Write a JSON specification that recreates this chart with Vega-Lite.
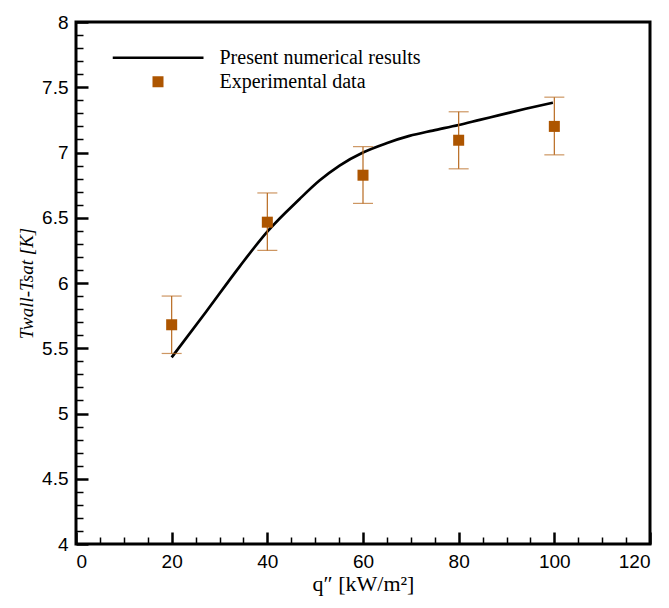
{
  "$schema": "https://vega.github.io/schema/vega-lite/v6.json",
  "autosize": "none",
  "width": 574,
  "height": 522,
  "padding": {"left": 76, "top": 22, "right": 19, "bottom": 64},
  "background": "white",
  "datasets": {
    "curve": [
      {"q": 20, "T": 5.43},
      {"q": 27.2, "T": 5.78},
      {"q": 34.2, "T": 6.126},
      {"q": 40, "T": 6.394},
      {"q": 46.7, "T": 6.642},
      {"q": 50.9, "T": 6.785},
      {"q": 55.1, "T": 6.9},
      {"q": 60, "T": 7.0},
      {"q": 64.9, "T": 7.071},
      {"q": 69.7, "T": 7.127},
      {"q": 74.6, "T": 7.168},
      {"q": 80, "T": 7.211},
      {"q": 84.4, "T": 7.25},
      {"q": 88.5, "T": 7.286},
      {"q": 94, "T": 7.335},
      {"q": 99.7, "T": 7.382}
    ],
    "exp": [
      {"q": 20, "T": 5.68, "lo": 5.46, "hi": 5.9, "series": "Experimental data"},
      {"q": 40, "T": 6.466, "lo": 6.25, "hi": 6.69, "series": "Experimental data"},
      {"q": 60, "T": 6.826, "lo": 6.61, "hi": 7.045, "series": "Experimental data"},
      {"q": 80, "T": 7.094, "lo": 6.875, "hi": 7.312, "series": "Experimental data"},
      {"q": 100, "T": 7.2, "lo": 6.982, "hi": 7.424, "series": "Experimental data"}
    ]
  },
  "layer": [
    {
      "data": {"name": "curve"},
      "mark": {"type": "line", "color": "black", "strokeWidth": 2.7, "interpolate": "monotone"},
      "encoding": {
        "x": {"field": "q", "type": "quantitative", "scale": {"domain": [0, 120], "nice": false},
          "axis": {"orient": "bottom", "values": [0, 20, 40, 60, 80, 100, 120], "format": "d", "ticks": false, "domain": false, "grid": false,
            "labelFont": "Liberation Sans", "labelFontSize": 19, "labelColor": "black", "labelPadding": 8,
            "title": "q″ [kW/m²]", "titleFont": "Liberation Serif", "titleFontSize": 22, "titleFontWeight": "normal", "titleColor": "black", "titlePadding": 2}},
        "y": {"field": "T", "type": "quantitative", "scale": {"domain": [4, 8], "nice": false, "zero": false},
          "axis": {"orient": "left", "values": [4, 4.5, 5, 5.5, 6, 6.5, 7, 7.5, 8], "format": "~g", "ticks": false, "domain": false, "grid": false,
            "labelFont": "Liberation Sans", "labelFontSize": 19, "labelColor": "black", "labelPadding": 8,
            "title": "Twall-Tsat [K]", "titleFont": "Liberation Serif", "titleFontSize": 19, "titleFontStyle": "italic", "titleFontWeight": "normal", "titleColor": "black", "titlePadding": 5}}
      }
    },
    {
      "data": {"name": "exp"},
      "mark": {"type": "rule", "color": "#b86a20", "strokeWidth": 1.2},
      "encoding": {
        "x": {"field": "q", "type": "quantitative",
          "axis": {"orient": "bottom", "values": [0, 20, 40, 60, 80, 100, 120], "labels": false, "domain": false, "grid": false, "ticks": true, "tickSize": -12, "tickWidth": 2.5, "tickColor": "black", "title": null}},
        "y": {"field": "lo", "type": "quantitative",
          "axis": {"orient": "left", "values": [4, 4.5, 5, 5.5, 6, 6.5, 7, 7.5, 8], "labels": false, "domain": false, "grid": false, "ticks": true, "tickSize": -12, "tickWidth": 2.5, "tickColor": "black", "title": null}},
        "y2": {"field": "hi"}
      }
    },
    {
      "data": {"name": "exp"},
      "mark": {"type": "tick", "orient": "horizontal", "color": "#b86a20", "size": 20, "thickness": 1.2},
      "encoding": {
        "x": {"field": "q", "type": "quantitative", "axis": null},
        "y": {"field": "lo", "type": "quantitative", "axis": null}
      }
    },
    {
      "data": {"name": "exp"},
      "mark": {"type": "tick", "orient": "horizontal", "color": "#b86a20", "size": 20, "thickness": 1.2},
      "encoding": {
        "x": {"field": "q", "type": "quantitative", "axis": null},
        "y": {"field": "hi", "type": "quantitative", "axis": null}
      }
    },
    {
      "data": {"name": "exp"},
      "mark": {"type": "point", "filled": true, "opacity": 1, "size": 8281},
      "encoding": {
        "x": {"field": "q", "type": "quantitative",
          "axis": {"orient": "bottom", "values": [5, 10, 15, 25, 30, 35, 45, 50, 55, 65, 70, 75, 85, 90, 95, 105, 110, 115], "labels": false, "domain": false, "grid": false, "ticks": true, "tickSize": -7, "tickWidth": 1.5, "tickColor": "black", "title": null}},
        "y": {"field": "T", "type": "quantitative",
          "axis": {"orient": "left", "values": [4.1, 4.2, 4.3, 4.4, 4.6, 4.7, 4.8, 4.9, 5.1, 5.2, 5.3, 5.4, 5.6, 5.7, 5.8, 5.9, 6.1, 6.2, 6.3, 6.4, 6.6, 6.7, 6.8, 6.9, 7.1, 7.2, 7.3, 7.4, 7.6, 7.7, 7.8, 7.9], "labels": false, "domain": false, "grid": false, "ticks": true, "tickSize": -7, "tickWidth": 1.5, "tickColor": "black", "title": null}},
        "color": {"field": "series", "type": "nominal",
          "scale": {"domain": ["Present numerical results", "Experimental data"], "range": ["black", "#ad5500"]},
          "legend": {"title": null, "orient": "none", "legendX": 36.5, "legendY": 23.7, "padding": 0, "rowPadding": 0, "clipHeight": 24, "symbolSize": 8281, "labelOffset": 16,
            "labelFont": "Liberation Serif", "labelFontSize": 20, "labelColor": "black", "labelLimit": 400, "symbolOpacity": 1, "symbolStrokeWidth": 0}},
        "shape": {"field": "series", "type": "nominal",
          "scale": {"domain": ["Present numerical results", "Experimental data"], "range": ["M-1,-0.028H1V0.028H-1Z", "M-0.121,-0.121H0.121V0.121H-0.121Z"]},
          "legend": {"title": null, "orient": "none", "legendX": 36.5, "legendY": 23.7, "padding": 0, "rowPadding": 0, "clipHeight": 24, "symbolSize": 8281, "labelOffset": 16,
            "labelFont": "Liberation Serif", "labelFontSize": 20, "labelColor": "black", "labelLimit": 400, "symbolOpacity": 1, "symbolStrokeWidth": 0}}
      }
    }
  ],
  "resolve": {"axis": {"x": "independent", "y": "independent"}},
  "config": {
    "view": {"stroke": "black", "strokeWidth": 3},
    "axis": {"grid": false}
  }
}
